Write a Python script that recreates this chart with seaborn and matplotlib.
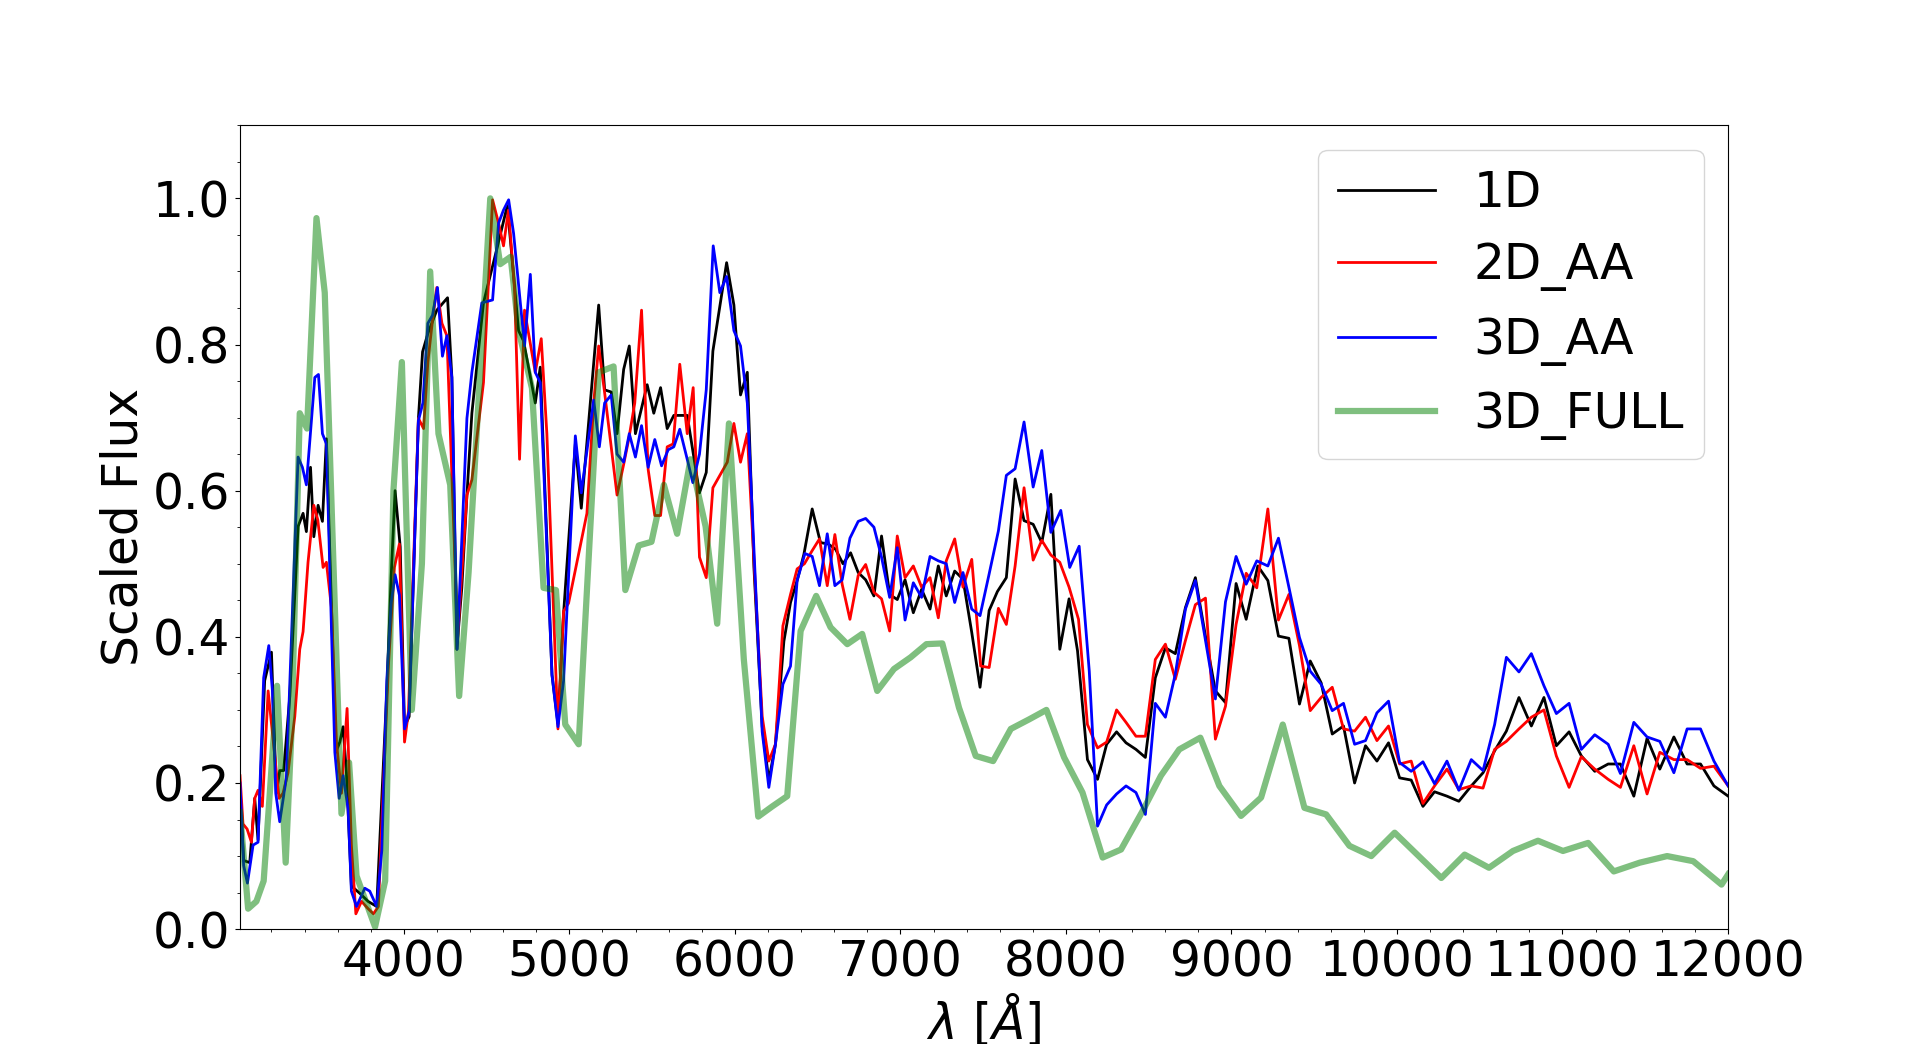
# 스펙트럼 비교 그래프 (1D / 2D_AA / 3D_AA / 3D_FULL)

import numpy as np
import pandas as pd
import matplotlib
matplotlib.use('Agg')
import matplotlib.pyplot as plt
import seaborn as sns

# 1D
wl_1d = [3010, 3032, 3069, 3099, 3119, 3159, 3200, 3230, 3250, 3274, 3311, 3361, 3391, 3411, 3436, 3456,
         3482, 3508, 3532, 3589, 3613, 3633, 3653, 3683, 3734, 3784, 3836, 3897, 3923, 3947, 3978, 4004,
         4032, 4088, 4113, 4145, 4199, 4264, 4290, 4320, 4350, 4381, 4411, 4481, 4562, 4625, 4693, 4723,
         4794, 4824, 4895, 4931, 4965, 5036, 5072, 5177, 5213, 5253, 5288, 5328, 5362, 5399, 5470, 5510,
         5551, 5591, 5631, 5712, 5786, 5827, 5867, 5950, 5994, 6034, 6075, 6115, 6165,
         6205, 6245, 6296, 6336, 6376, 6417, 6467, 6517, 6564, 6608, 6653, 6699, 6745, 6790, 6840, 6886,
         6935, 6981, 7028, 7078, 7128, 7179, 7229, 7277, 7328, 7378, 7431, 7481, 7536, 7586, 7640, 7693,
         7747, 7802, 7854, 7909, 7963, 8019, 8070, 8130, 8191, 8246, 8306, 8363, 8423, 8480, 8540, 8601,
         8661, 8722, 8782, 8843, 8903, 8964, 9028, 9089, 9159, 9220, 9284, 9347, 9411, 9476, 9542, 9609,
         9677, 9744, 9810, 9879, 9949, 10016, 10086, 10157, 10227, 10302, 10374, 10449, 10520, 10590,
         10661, 10737, 10812, 10888, 10963, 11040, 11114, 11195, 11276, 11350, 11431, 11511, 11588, 11673,
         11753, 11834, 11915, 12001]
fl_1d = [0.196, 0.094, 0.091, 0.179, 0.122, 0.34, 0.379, 0.186, 0.217, 0.217, 0.319, 0.551, 0.569, 0.544, 0.632, 0.537,
         0.58, 0.558, 0.671, 0.242, 0.256, 0.277, 0.214, 0.059, 0.049, 0.038, 0.031, 0.326, 0.481, 0.60, 0.523, 0.277,
         0.291, 0.699, 0.79, 0.815, 0.847, 0.864, 0.755, 0.383, 0.467, 0.594, 0.706, 0.857, 0.931, 0.99, 0.819, 0.805,
         0.72, 0.769, 0.348, 0.281, 0.432, 0.664, 0.576, 0.854, 0.738, 0.735, 0.678, 0.766, 0.798, 0.678, 0.745, 0.706,
         0.741, 0.685, 0.703, 0.703, 0.597, 0.625, 0.791, 0.912, 0.854, 0.731, 0.762, 0.495, 0.277,
         0.203, 0.253, 0.394, 0.447, 0.477, 0.513, 0.575, 0.529, 0.527, 0.52, 0.5, 0.515, 0.488, 0.478, 0.456, 0.538,
         0.458, 0.451, 0.478, 0.433, 0.465, 0.438, 0.497, 0.456, 0.49, 0.479, 0.406, 0.331, 0.436, 0.462, 0.481, 0.616,
         0.559, 0.554, 0.529, 0.595, 0.383, 0.452, 0.381, 0.232, 0.205, 0.253, 0.27, 0.255, 0.246, 0.235, 0.344, 0.385,
         0.377, 0.440, 0.481, 0.401, 0.326, 0.31, 0.473, 0.424, 0.497, 0.477, 0.401, 0.398, 0.308, 0.367, 0.337, 0.267,
         0.278, 0.2, 0.251, 0.230, 0.255, 0.207, 0.204, 0.168, 0.188, 0.182, 0.175, 0.196, 0.214, 0.244,
         0.271, 0.317, 0.278, 0.317, 0.251, 0.270, 0.237, 0.216, 0.226, 0.226, 0.182, 0.261, 0.219, 0.263,
         0.226, 0.226, 0.196, 0.182]

# 2D_AA
wl_2d = [3010, 3028, 3053, 3079, 3099, 3119, 3145, 3180, 3246, 3270, 3300, 3341, 3371, 3391, 3421, 3456,
         3480, 3512, 3532, 3563, 3593, 3623, 3657, 3683, 3710, 3744, 3784, 3816, 3846, 3907, 3943, 3973,
         4004, 4028, 4088, 4119, 4145, 4173, 4199, 4230, 4260, 4325, 4381, 4411, 4481, 4536, 4572, 4602,
         4632, 4669, 4699, 4729, 4794, 4830, 4864, 4931, 4965, 4995, 5106, 5147, 5177, 5213, 5288, 5328,
         5359, 5395, 5436, 5476, 5516, 5551, 5591, 5627, 5667, 5712, 5748, 5786, 5827, 5867, 5954, 5994,
         6034, 6075, 6165,
         6205, 6245, 6290, 6336, 6376, 6420, 6467, 6511, 6558, 6604, 6648, 6695, 6745, 6790, 6840, 6886,
         6935, 6981, 7028, 7078, 7128, 7179, 7229, 7277, 7328, 7378, 7431, 7485, 7536, 7592, 7640, 7693,
         7747, 7802, 7854, 7909, 7963, 8019, 8076, 8130, 8191, 8246, 8306, 8363, 8423, 8480, 8540, 8601,
         8661, 8722, 8782, 8843, 8903, 8964, 9028, 9089, 9153, 9220, 9284, 9347, 9411, 9476, 9542, 9609,
         9677, 9744, 9810, 9879, 9949, 10016, 10086, 10157, 10227, 10302, 10374, 10449, 10520, 10590,
         10661, 10737, 10812, 10888, 10963, 11040, 11114, 11195, 11276, 11350, 11431, 11511, 11588, 11673,
         11753, 11834, 11915, 12001]
fl_2d = [0.21, 0.144, 0.137, 0.119, 0.179, 0.19, 0.168, 0.326, 0.179, 0.186, 0.214, 0.291, 0.383, 0.407, 0.502, 0.58,
         0.56, 0.495, 0.502, 0.439, 0.256, 0.186, 0.302, 0.115, 0.021, 0.038, 0.028, 0.021, 0.031, 0.362, 0.495, 0.527,
         0.256, 0.298, 0.699, 0.685, 0.776, 0.833, 0.878, 0.829, 0.812, 0.40, 0.594, 0.615, 0.748, 0.998, 0.966, 0.935,
         0.984, 0.875, 0.643, 0.847, 0.762, 0.808, 0.678, 0.274, 0.435, 0.446, 0.569, 0.72, 0.798, 0.734, 0.594, 0.636,
         0.671, 0.72, 0.847, 0.629, 0.566, 0.566, 0.66, 0.664, 0.773, 0.678, 0.741, 0.509, 0.481, 0.604, 0.639, 0.692,
         0.639, 0.678, 0.291,
         0.230, 0.253, 0.415, 0.458, 0.493, 0.50, 0.518, 0.534, 0.470, 0.54, 0.472, 0.424, 0.484, 0.499, 0.461, 0.452,
         0.408, 0.538, 0.481, 0.497, 0.468, 0.481, 0.426, 0.504, 0.534, 0.468, 0.506, 0.36, 0.358, 0.439, 0.417, 0.497,
         0.604, 0.505, 0.532, 0.512, 0.502, 0.468, 0.424, 0.280, 0.248, 0.256, 0.30, 0.283, 0.264, 0.264, 0.369, 0.39,
         0.342, 0.395, 0.444, 0.453, 0.26, 0.305, 0.417, 0.487, 0.467, 0.575, 0.423, 0.458, 0.388, 0.299, 0.317, 0.331,
         0.274, 0.271, 0.29, 0.258, 0.278, 0.226, 0.230, 0.172, 0.196, 0.219, 0.191, 0.196, 0.193, 0.246,
         0.257, 0.274, 0.29, 0.3, 0.237, 0.194, 0.236, 0.219, 0.205, 0.194, 0.251, 0.185, 0.242, 0.232,
         0.232, 0.220, 0.223, 0.196]

# 3D_AA
wl_3d = [3010, 3032, 3055, 3089, 3119, 3153, 3184, 3206, 3226, 3250, 3290, 3361, 3387, 3411, 3462, 3484,
         3508, 3532, 3583, 3609, 3633, 3663, 3683, 3714, 3764, 3794, 3836, 3867, 3897, 3923, 3947, 3973,
         4004, 4032, 4088, 4115, 4145, 4173, 4203, 4233, 4260, 4290, 4322, 4381, 4411, 4471, 4536, 4572,
         4602, 4633, 4663, 4729, 4764, 4794, 4824, 4895, 4931, 4965, 5036, 5072, 5147, 5181, 5213, 5253,
         5288, 5328, 5362, 5399, 5436, 5476, 5516, 5557, 5597, 5631, 5667, 5712, 5746, 5786, 5827, 5869,
         5909, 5950, 5994, 6034, 6075, 6165,
         6205, 6245, 6290, 6336, 6376, 6423, 6467, 6511, 6558, 6604, 6648, 6695, 6745, 6790, 6840, 6886,
         6935, 6981, 7028, 7078, 7128, 7179, 7229, 7277, 7328, 7378, 7431, 7481, 7536, 7592, 7640, 7693,
         7747, 7802, 7854, 7909, 7969, 8023, 8080, 8141, 8191, 8246, 8306, 8363, 8423, 8480, 8540, 8601,
         8661, 8722, 8782, 8843, 8903, 8964, 9028, 9089, 9153, 9220, 9284, 9347, 9411, 9476, 9542, 9609,
         9677, 9744, 9810, 9879, 9949, 10016, 10086, 10157, 10227, 10302, 10374, 10449, 10520, 10590,
         10661, 10737, 10812, 10888, 10963, 11040, 11114, 11195, 11276, 11350, 11431, 11511, 11588, 11673,
         11753, 11834, 11915, 12001]
fl_3d = [0.2, 0.087, 0.063, 0.115, 0.119, 0.344, 0.388, 0.326, 0.186, 0.147, 0.207, 0.646, 0.632, 0.608, 0.755, 0.759,
         0.678, 0.664, 0.242, 0.179, 0.21, 0.165, 0.052, 0.031, 0.056, 0.052, 0.031, 0.108, 0.34, 0.446, 0.485, 0.457,
         0.274, 0.298, 0.696, 0.72, 0.829, 0.84, 0.878, 0.784, 0.812, 0.755, 0.383, 0.699, 0.762, 0.857, 0.861, 0.966,
         0.984, 0.998, 0.952, 0.798, 0.896, 0.762, 0.748, 0.348, 0.277, 0.34, 0.675, 0.597, 0.724, 0.66, 0.72, 0.731,
         0.65, 0.639, 0.678, 0.646, 0.689, 0.632, 0.67, 0.634, 0.656, 0.66, 0.684, 0.643, 0.611, 0.65, 0.738, 0.935,
         0.871, 0.893, 0.819, 0.798, 0.72, 0.270,
         0.194, 0.253, 0.335, 0.36, 0.477, 0.514, 0.51, 0.47, 0.541, 0.47, 0.478, 0.535, 0.558, 0.562, 0.55, 0.509,
         0.454, 0.522, 0.423, 0.474, 0.454, 0.51, 0.504, 0.5, 0.447, 0.488, 0.438, 0.429, 0.486, 0.545, 0.621, 0.630,
         0.694, 0.605, 0.655, 0.543, 0.573, 0.495, 0.524, 0.353, 0.141, 0.17, 0.185, 0.196, 0.187, 0.157, 0.309, 0.290,
         0.349, 0.438, 0.477, 0.395, 0.315, 0.448, 0.51, 0.472, 0.504, 0.497, 0.535, 0.468, 0.399, 0.353, 0.335, 0.299,
         0.309, 0.253, 0.258, 0.296, 0.312, 0.228, 0.216, 0.229, 0.199, 0.23, 0.190, 0.232, 0.217, 0.280,
         0.372, 0.352, 0.377, 0.333, 0.295, 0.309, 0.246, 0.266, 0.253, 0.213, 0.283, 0.263, 0.257, 0.214,
         0.274, 0.274, 0.230, 0.196]

# 3D_FULL
wl_full = [3010, 3059, 3109, 3153, 3190, 3234, 3286, 3321, 3371, 3415, 3472, 3522, 3623, 3669, 3714, 3826,
           3887, 3937, 3988, 4048, 4109, 4159, 4209, 4280, 4334, 4391, 4522, 4582, 4645, 4693, 4774, 4844,
           4919, 4975, 5056, 5177, 5267, 5338, 5419, 5496, 5571, 5651, 5732, 5823, 5893, 5964, 6054, 6141,
           6226, 6316, 6397, 6491, 6578, 6679, 6769, 6860, 6961, 7062, 7157, 7253, 7354, 7455, 7560, 7667,
           7777, 7882, 7989, 8100, 8222, 8333, 8464, 8574, 8685, 8812, 8927, 9058, 9179, 9310, 9441, 9572,
           9713, 9845, 9986, 10268, 10409, 10556, 10701, 10852, 11003, 11155, 11310, 11467, 11632, 11790,
           11961, 12001]
fl_full = [0.16, 0.028, 0.038, 0.066, 0.186, 0.333, 0.091, 0.27, 0.706, 0.685, 0.973, 0.871, 0.158, 0.228, 0.073, 0.003,
           0.066, 0.60, 0.776, 0.30, 0.50, 0.90, 0.678, 0.608, 0.319, 0.488, 1.0, 0.91, 0.92, 0.82, 0.74, 0.467,
           0.464, 0.28, 0.253, 0.762, 0.77, 0.464, 0.525, 0.53, 0.608, 0.541, 0.643, 0.551, 0.418, 0.692, 0.369, 0.154,
           0.168, 0.182, 0.408, 0.456, 0.413, 0.390, 0.404, 0.326, 0.356, 0.372, 0.390, 0.391, 0.303, 0.237, 0.230, 0.274,
           0.287, 0.30, 0.235, 0.187, 0.098, 0.109, 0.162, 0.21, 0.246, 0.262, 0.196, 0.155, 0.180, 0.280, 0.166, 0.157,
           0.114, 0.100, 0.132, 0.070, 0.102, 0.084, 0.107, 0.121, 0.107, 0.118, 0.079, 0.091, 0.100, 0.093,
           0.061, 0.075]

labels = ['1D', '2D_AA', '3D_AA', '3D_FULL']

fig, ax = plt.subplots(figsize=(19.2, 10.44), dpi=100)

sns.lineplot(x=wl_1d, y=fl_1d, color='black', lw=2, label=labels[0], ax=ax, sort=False)
sns.lineplot(x=wl_2d, y=fl_2d, color='red', lw=2, label=labels[1], ax=ax, sort=False)
sns.lineplot(x=wl_3d, y=fl_3d, color='blue', lw=2, label=labels[2], ax=ax, sort=False)
sns.lineplot(x=wl_full, y=fl_full, color='green', alpha=0.5, lw=4.5, label=labels[3], ax=ax, sort=False)

ax.set_xlim(3010, 12000)
ax.set_ylim(0, 1.1)
ax.set_xticks([4000, 5000, 6000, 7000, 8000, 9000, 10000, 11000, 12000])
ax.minorticks_on()
ax.tick_params(labelsize=35)
ax.set_xlabel(r'$\lambda$ [$\AA$]', fontsize=35)
ax.set_ylabel('Scaled Flux', fontsize=35)
ax.legend(loc='upper right', fontsize=35)

fig.savefig('out.png', dpi=100)
